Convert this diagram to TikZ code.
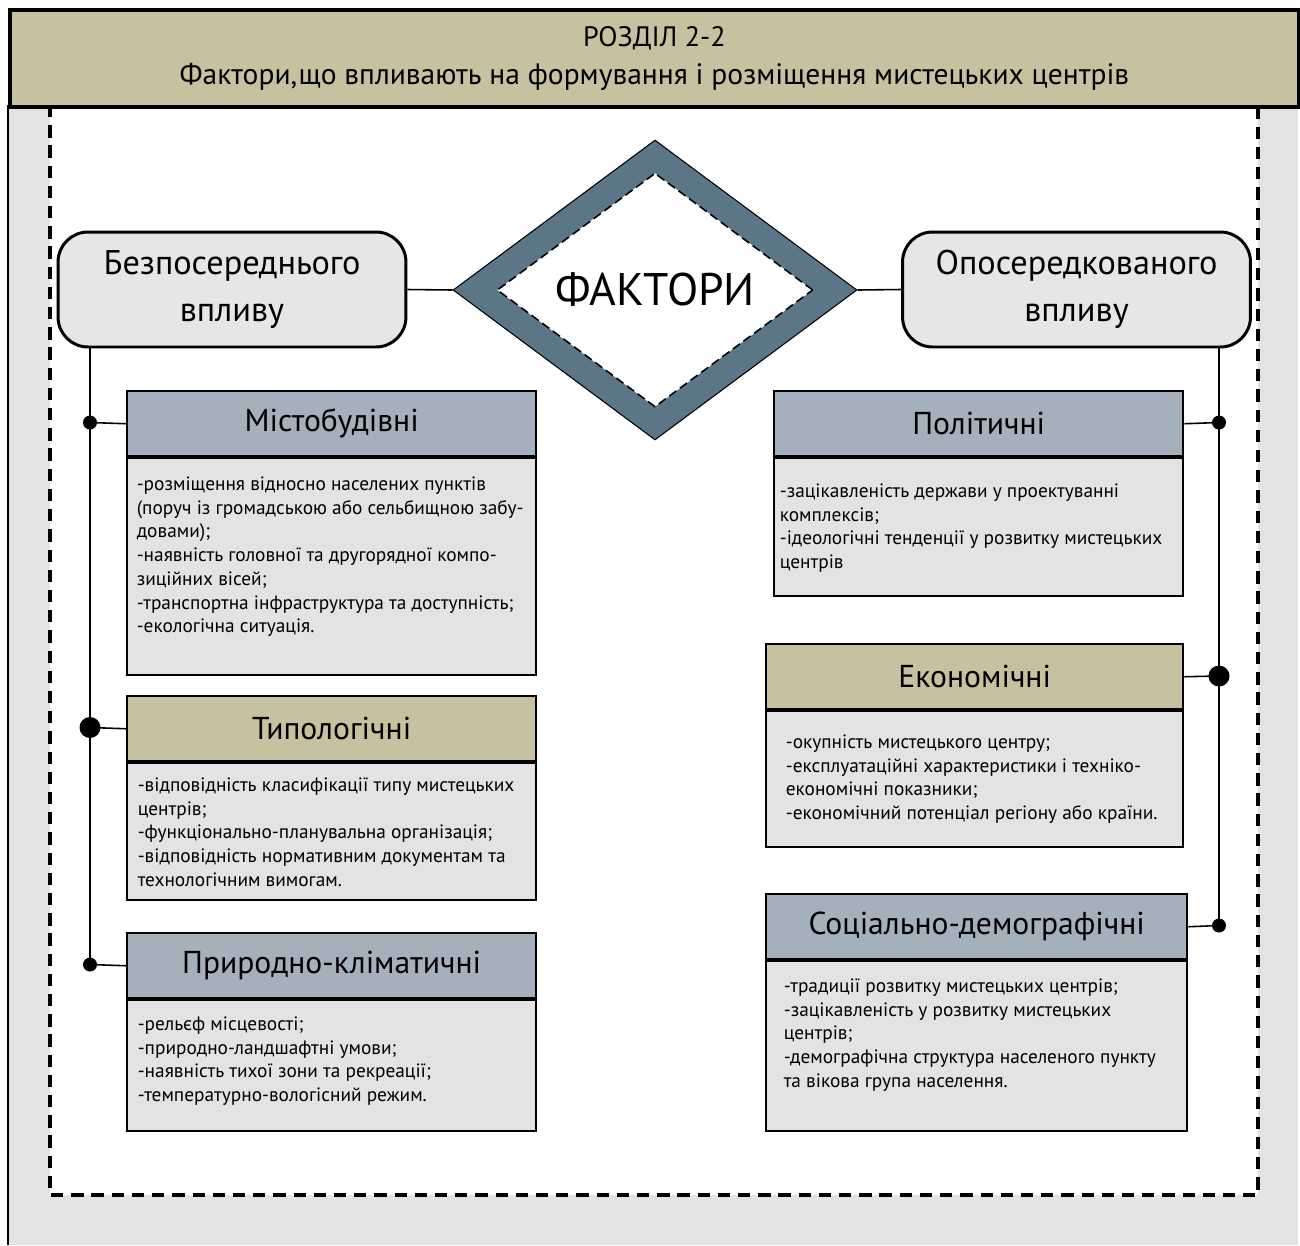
\documentclass[tikz,border=0pt]{standalone}
\usepackage{fontspec}
\setmainfont{PT Sans}
\usetikzlibrary{positioning,shapes.geometric}
\definecolor{tanfill}{HTML}{C7C1A0}
\definecolor{lgray}{HTML}{E3E3E3}
\definecolor{rgray}{HTML}{E6E6E6}
\definecolor{bgray}{HTML}{A4B0BB}
\definecolor{slate}{HTML}{5B7687}
\tikzset{
    hdr/.style={draw, line width=1.4pt, minimum width=8.18cm, minimum height=1.3cm,
        anchor=north west, inner sep=0pt, font=\fontsize{18}{20}\selectfont},
    body/.style={draw, line width=0.9pt, fill=lgray, minimum width=8.18cm, inner sep=0pt},
    txt/.style={align=left, inner sep=0pt, font=\fontsize{11}{13.5}\selectfont},
    vplyv/.style={draw, line width=1.7pt, rounded corners=0.6cm, fill=rgray,
        minimum width=6.96cm, minimum height=2.3cm, align=center,
        font=\fontsize{19.5}{26.6}\selectfont},
    link/.style={line width=0.9pt},
    frame/.style={line width=1.8pt, dash pattern=on 7pt off 4.5pt}
}
\begin{document}
\begin{tikzpicture}[x=0.02cm, y=-0.02cm]
    \useasboundingbox (0,0) rectangle (1300,1245);
    % background
    \fill[lgray] (8,105) rectangle (1298,1245);
    \draw[link] (8,105) -- (8,1245);
    \fill[white] (50,105) rectangle (1258,1195);
    \draw[frame] (50,105) -- (50,1195) -- (1258,1195) -- (1258,105);
    \node[draw, line width=2.3pt, fill=tanfill, minimum width=25.78cm, minimum height=1.94cm,
        anchor=north west, align=center, font=\fontsize{16}{21.6}\selectfont] (title) at (8,8)
        {РОЗДІЛ 2-2\\{\fontsize{16.8}{21.6}\selectfont Фактори,що впливають на формування і розміщення мистецьких центрів}};

    % centre
    \node[diamond, draw, fill=slate, line width=0.6pt, minimum width=8.08cm, minimum height=6cm,
        inner sep=0pt] (fakt) at (655,290) {};
    \node[diamond, draw, fill=white, line width=0.9pt, dash pattern=on 5pt off 2.5pt,
        minimum width=6.32cm, minimum height=4.68cm, inner sep=0pt,
        font=\fontsize{26}{28}\selectfont] (fakt-in) at (fakt.center) {ФАКТОРИ};
    \node[vplyv] (bezp) at (232,289.5) {Безпосереднього\\впливу};
    \node[vplyv] (opos) at (1076.5,289.5) {Опосередкованого\\впливу};
    \draw[link] (bezp.east) -- (fakt.west);
    \draw[link] (fakt.east) -- (opos.west);

    % left column
    \node[hdr, fill=bgray] (mist) at (126,390) {Містобудівні};
    \node[body, below=0pt of mist, minimum height=4.34cm] (mist-b) {};
    \node[txt, below right=0.38cm and 0.2cm of mist-b.north west] (mist-t)
        {-розміщення відносно населених пунктів\\
         (поруч із громадською або сельбищною забу-\\
         довами);\\
         -наявність головної та другорядної компо-\\
         зиційних вісей;\\
         -транспортна інфраструктура та доступність;\\
         -екологічна ситуація.};

    \node[hdr, fill=tanfill] (typ) at (126,695) {Типологічні};
    \node[body, below=0pt of typ, minimum height=2.74cm] (typ-b) {};
    \node[txt, below right=0.3cm and 0.22cm of typ-b.north west] (typ-t)
        {-відповідність класифікації типу мистецьких\\
         центрів;\\
         -функціонально-планувальна організація;\\
         -відповідність нормативним документам та\\
         технологічним вимогам.};

    \node[hdr, fill=bgray] (pryr) at (126,932) {Природно-кліматичні};
    \node[body, below=0pt of pryr, minimum height=2.62cm] (pryr-b) {};
    \node[txt, below right=0.34cm and 0.22cm of pryr-b.north west] (pryr-t)
        {-рельєф місцевості;\\
         -природно-ландшафтні умови;\\
         -наявність тихої зони та рекреації;\\
         -температурно-вологісний режим.};

    % right column
    \node[hdr, fill=bgray] (polit) at (773,390) {Політичні};
    \node[body, below=0pt of polit, minimum height=2.76cm] (polit-b) {};
    \node[txt, below right=0.52cm and 0.12cm of polit-b.north west] (polit-t)
        {-зацікавленість держави у проектуванні\\
         комплексів;\\
         -ідеологічні тенденції у розвитку мистецьких\\
         центрів};

    \node[hdr, fill=tanfill, minimum width=8.34cm] (ekon) at (765,643) {Економічні};
    \node[body, below=0pt of ekon, minimum width=8.34cm, minimum height=2.72cm] (ekon-b) {};
    \node[txt, below right=0.48cm and 0.4cm of ekon-b.north west] (ekon-t)
        {-окупність мистецького центру;\\
         -експлуатаційні характеристики і техніко-\\
         економічні показники;\\
         -економічний потенціал регіону або країни.};

    \node[hdr, fill=bgray, minimum width=8.42cm] (soc) at (765,893) {Соціально-демографічні};
    \node[body, below=0pt of soc, minimum width=8.42cm, minimum height=3.4cm] (soc-b) {};
    \node[txt, below right=0.36cm and 0.36cm of soc-b.north west] (soc-t)
        {-традиції розвитку мистецьких центрів;\\
         -зацікавленість у розвитку мистецьких\\
         центрів;\\
         -демографічна структура населеного пункту\\
         та вікова група населення.};

    % trunks
    \coordinate (l1) at (90,422.5);
    \coordinate (l2) at (90,727.5);
    \coordinate (l3) at (90,964.5);
    \coordinate (r1) at (1219,422.5);
    \coordinate (r2) at (1219,676);
    \coordinate (r3) at (1219,925.5);
    \draw[link] (bezp.south -| l1) -- (l3);
    \draw[link] (opos.south -| r1) -- (r3);
    \draw[link] (l1) -- (mist.west);
    \draw[link] (l2) -- (typ.west);
    \draw[link] (l3) -- (pryr.west);
    \draw[link] (r1) -- (polit.east);
    \draw[link] (r2) -- (ekon.east);
    \draw[link] (r3) -- (soc.east);
    \foreach \c/\r in {l1/7, l2/10.5, l3/7, r1/7, r2/10.5, r3/7}
        \fill (\c) circle (\r);
\end{tikzpicture}
\end{document}
